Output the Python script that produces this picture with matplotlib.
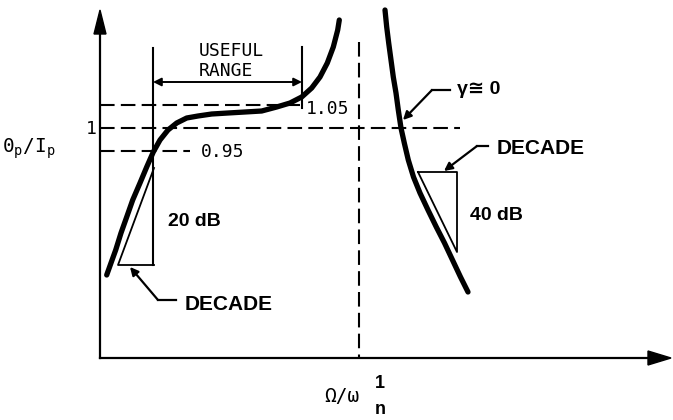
import matplotlib.pyplot as plt

# schematic drawn in picture coordinates (x right, y down)
left_x = [106.7, 111, 115.7, 121, 126.7, 132.7, 140, 146.7, 153.3, 160, 168, 176.7, 186.7, 198,
          211.7, 228, 245, 261.7, 276.7, 290, 301.7, 311.7, 320, 327.3, 333.3, 337.7, 339.3]
left_y = [275, 263, 250, 233, 217, 200, 183, 167, 152, 140, 130, 123, 118, 116,
          114, 113, 112, 111, 107, 103, 97, 88, 77, 63, 47, 30, 20]

right_x = [385, 386.7, 388.7, 391, 393.3, 396, 398.3, 401, 404.3, 408.3, 413.5, 420, 428,
           436.3, 444.5, 452.5, 460.5, 468]
right_y = [10, 27, 43, 60, 77, 93, 110, 128, 143, 160, 177, 193, 210,
           227, 243, 260, 277, 292]

level_names = ['1.05', '1', '0.95']
level_y = [105, 128, 151]
level_end = [300, 460, 190]

fig = plt.figure(figsize=(6.73, 4.2), dpi=100)
ax = fig.add_axes([0, 0, 1, 1])
ax.set_xlim(0, 673)
ax.set_ylim(420, 0)
ax.axis('off')

mono = 'DejaVu Sans Mono'
bold = ['Liberation Sans', 'DejaVu Sans']

# axes with arrows
ax.plot([100, 100], [358, 30], color='black', lw=1.6)
ax.plot([100, 650], [358, 358], color='black', lw=1.6)
ax.fill([94, 106, 100], [34, 34, 10], color='black')
ax.fill([648, 648, 671], [351, 365, 358], color='black')

# reference levels
dash = (0, (7, 3))
for name, y, x1 in zip(level_names, level_y, level_end):
    ax.plot([100, x1], [y, y], color='black', lw=1.5, linestyle=dash)
ax.plot([359, 359], [42, 358], color='black', lw=1.5, linestyle=dash)
ax.text(306, 109, '1.05', fontsize=13, family=mono, va='center', ha='left')
ax.text(91, 129, '1', fontsize=13, family=mono, va='center', ha='center')
ax.text(201, 152, '0.95', fontsize=13, family=mono, va='center', ha='left')
ax.text(2, 149, r'0$_\mathregular{p}$/I$_\mathregular{p}$', fontsize=14, family=mono, va='center', ha='left')

# useful range
ax.plot([153, 153], [48, 265], color='black', lw=1.5)
ax.plot([302, 302], [47, 108], color='black', lw=1.5)
ax.annotate('', xy=(153, 82), xytext=(302, 82),
            arrowprops=dict(arrowstyle='<|-|>', color='black', lw=1.4, mutation_scale=12, shrinkA=0, shrinkB=0))
ax.text(231, 51, 'USEFUL', fontsize=13, family=mono, ha='center', va='center')
ax.text(226, 71, 'RANGE', fontsize=13, family=mono, ha='center', va='center')

# response curves
ax.plot(left_x, left_y, color='black', lw=3.8, solid_capstyle='round', solid_joinstyle='round')
ax.plot(right_x, right_y, color='black', lw=3.8, solid_capstyle='round', solid_joinstyle='round')

# slope triangles
ax.plot([154, 118, 154], [168, 265, 265], color='black', lw=1.3)
ax.plot([418, 457, 457, 418], [172, 172, 252, 172], color='black', lw=1.3)
ax.text(168, 222, '20 dB', fontsize=14, family=bold, weight='bold', va='center', ha='left')
ax.text(470, 216, '40 dB', fontsize=14, family=bold, weight='bold', va='center', ha='left')

# pointers
arrow = dict(arrowstyle='-|>', color='black', lw=1.6, mutation_scale=12, shrinkA=0, shrinkB=0)
ax.plot([158, 176], [300, 300], color='black', lw=1.6)
ax.annotate('', xy=(130, 267), xytext=(158, 300), arrowprops=arrow)
ax.text(185, 305, 'DECADE', fontsize=15, family=bold, weight='bold', va='center', ha='left')

ax.plot([477, 488], [146, 146], color='black', lw=1.6)
ax.annotate('', xy=(444, 171), xytext=(477, 146), arrowprops=arrow)
ax.text(497, 148, 'DECADE', fontsize=15, family=bold, weight='bold', va='center', ha='left')

ax.plot([432, 450], [90, 90], color='black', lw=1.6)
ax.annotate('', xy=(403, 120), xytext=(432, 90), arrowprops=arrow)
ax.text(457, 89, '\u03b3\u2245 0', fontsize=14, family=bold, weight='bold', va='center', ha='left')

# x label
ax.text(342, 397, '\u03a9/\u03c9', fontsize=14, family=mono, ha='center', va='center')
ax.text(380, 384, '1', fontsize=13, family=bold, weight='bold', ha='center', va='center')
ax.text(380, 410, 'n', fontsize=13, family=bold, weight='bold', ha='center', va='center')

fig.savefig('out.png', dpi=100)
